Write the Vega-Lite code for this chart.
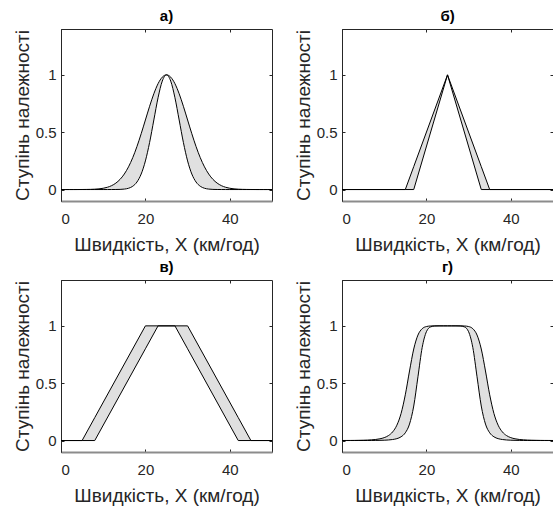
{
"$schema": "https://vega.github.io/schema/vega-lite/v6.json",
"padding": {"left": 12, "top": 8, "right": 0, "bottom": 0},
"columns": 2,
"spacing": {"row": 4, "column": 18},
"datasets": {
"pa": [{"x":0,"hi":0,"lo":0},{"x":1,"hi":0,"lo":0},{"x":2,"hi":0,"lo":0},{"x":3,"hi":0,"lo":0},{"x":4,"hi":0.0001,"lo":0},{"x":5,"hi":0.0003,"lo":0},{"x":6,"hi":0.0007,"lo":0},{"x":7,"hi":0.0015,"lo":0},{"x":8,"hi":0.0031,"lo":0},{"x":9,"hi":0.006,"lo":0},{"x":10,"hi":0.0111,"lo":0},{"x":11,"hi":0.0198,"lo":0},{"x":12,"hi":0.034,"lo":0.0001},{"x":13,"hi":0.0561,"lo":0.0003},{"x":14,"hi":0.0889,"lo":0.0012},{"x":15,"hi":0.1353,"lo":0.0039},{"x":16,"hi":0.1979,"lo":0.0111},{"x":17,"hi":0.278,"lo":0.0286},{"x":18,"hi":0.3753,"lo":0.0657},{"x":19,"hi":0.4868,"lo":0.1353},{"x":20,"hi":0.6065,"lo":0.2494},{"x":21,"hi":0.7261,"lo":0.4111},{"x":22,"hi":0.8353,"lo":0.6065},{"x":23,"hi":0.9231,"lo":0.8007},{"x":24,"hi":0.9802,"lo":0.9459},{"x":25,"hi":1,"lo":1},{"x":26,"hi":0.9802,"lo":0.9459},{"x":27,"hi":0.9231,"lo":0.8007},{"x":28,"hi":0.8353,"lo":0.6065},{"x":29,"hi":0.7261,"lo":0.4111},{"x":30,"hi":0.6065,"lo":0.2494},{"x":31,"hi":0.4868,"lo":0.1353},{"x":32,"hi":0.3753,"lo":0.0657},{"x":33,"hi":0.278,"lo":0.0286},{"x":34,"hi":0.1979,"lo":0.0111},{"x":35,"hi":0.1353,"lo":0.0039},{"x":36,"hi":0.0889,"lo":0.0012},{"x":37,"hi":0.0561,"lo":0.0003},{"x":38,"hi":0.034,"lo":0.0001},{"x":39,"hi":0.0198,"lo":0},{"x":40,"hi":0.0111,"lo":0},{"x":41,"hi":0.006,"lo":0},{"x":42,"hi":0.0031,"lo":0},{"x":43,"hi":0.0015,"lo":0},{"x":44,"hi":0.0007,"lo":0},{"x":45,"hi":0.0003,"lo":0},{"x":46,"hi":0.0001,"lo":0},{"x":47,"hi":0,"lo":0},{"x":48,"hi":0,"lo":0},{"x":49,"hi":0,"lo":0},{"x":50,"hi":0,"lo":0}],
"pb": [{"x":0,"hi":0,"lo":0},{"x":15,"hi":0,"lo":0},{"x":17,"hi":0.2,"lo":0},{"x":25,"hi":1,"lo":1},{"x":33,"hi":0.2,"lo":0},{"x":35,"hi":0,"lo":0},{"x":50,"hi":0,"lo":0}],
"pv": [{"x":0,"hi":0,"lo":0},{"x":5,"hi":0,"lo":0},{"x":8,"hi":0.2,"lo":0},{"x":20,"hi":1,"lo":0.8},{"x":23,"hi":1,"lo":1},{"x":27,"hi":1,"lo":1},{"x":30,"hi":1,"lo":0.8},{"x":42,"hi":0.2,"lo":0},{"x":45,"hi":0,"lo":0},{"x":50,"hi":0,"lo":0}],
"pg": [{"x":0,"hi":0.0004,"lo":0},{"x":1,"hi":0.0006,"lo":0.0001},{"x":2,"hi":0.0008,"lo":0.0001},{"x":3,"hi":0.0012,"lo":0.0001},{"x":4,"hi":0.0018,"lo":0.0002},{"x":5,"hi":0.0026,"lo":0.0003},{"x":6,"hi":0.0039,"lo":0.0004},{"x":7,"hi":0.006,"lo":0.0007},{"x":8,"hi":0.0094,"lo":0.001},{"x":9,"hi":0.0152,"lo":0.0017},{"x":10,"hi":0.0252,"lo":0.0028},{"x":11,"hi":0.043,"lo":0.0049},{"x":12,"hi":0.0752,"lo":0.0088},{"x":13,"hi":0.1337,"lo":0.0165},{"x":14,"hi":0.2363,"lo":0.0326},{"x":15,"hi":0.3988,"lo":0.0674},{"x":16,"hi":0.6065,"lo":0.1437},{"x":17,"hi":0.7982,"lo":0.3009},{"x":18,"hi":0.92,"lo":0.5561},{"x":19,"hi":0.9753,"lo":0.8113},{"x":20,"hi":0.9941,"lo":0.9487},{"x":21,"hi":0.999,"lo":0.991},{"x":22,"hi":0.9999,"lo":0.9991},{"x":23,"hi":1,"lo":1},{"x":24,"hi":1,"lo":1},{"x":25,"hi":1,"lo":1},{"x":26,"hi":1,"lo":1},{"x":27,"hi":1,"lo":1},{"x":28,"hi":0.9999,"lo":0.9991},{"x":29,"hi":0.999,"lo":0.991},{"x":30,"hi":0.9941,"lo":0.9487},{"x":31,"hi":0.9753,"lo":0.8113},{"x":32,"hi":0.92,"lo":0.5561},{"x":33,"hi":0.7982,"lo":0.3009},{"x":34,"hi":0.6065,"lo":0.1437},{"x":35,"hi":0.3988,"lo":0.0674},{"x":36,"hi":0.2363,"lo":0.0326},{"x":37,"hi":0.1337,"lo":0.0165},{"x":38,"hi":0.0752,"lo":0.0088},{"x":39,"hi":0.043,"lo":0.0049},{"x":40,"hi":0.0252,"lo":0.0028},{"x":41,"hi":0.0152,"lo":0.0017},{"x":42,"hi":0.0094,"lo":0.001},{"x":43,"hi":0.006,"lo":0.0007},{"x":44,"hi":0.0039,"lo":0.0004},{"x":45,"hi":0.0026,"lo":0.0003},{"x":46,"hi":0.0018,"lo":0.0002},{"x":47,"hi":0.0012,"lo":0.0001},{"x":48,"hi":0.0008,"lo":0.0001},{"x":49,"hi":0.0006,"lo":0.0001},{"x":50,"hi":0.0004,"lo":0}]
},
"concat": [
{"title": "а)", "data": {"name": "pa"}, "width": 211, "height": 172,
 "resolve": {"axis": {"x": "independent", "y": "independent"}},
 "layer": [
  {"mark": {"type": "area", "interpolate": "monotone", "color": "#e0e0e0"},
   "encoding": {
    "x": {"field": "x", "type": "quantitative", "scale": {"domain": [0, 50], "nice": false, "zero": false}, "axis": {"values": [0, 20, 40], "title": "Швидкість, X (км/год)"}},
    "y": {"field": "hi", "type": "quantitative", "scale": {"domain": [-0.1, 1.4], "nice": false, "zero": false}, "axis": {"values": [0, 0.5, 1], "format": "~g", "title": "Ступінь належності"}},
    "y2": {"field": "lo"}}},
  {"mark": {"type": "line", "interpolate": "monotone", "color": "#000000", "strokeWidth": 1},
   "encoding": {
    "x": {"field": "x", "type": "quantitative", "axis": {"orient": "top", "values": [0, 20, 40], "labels": false, "title": null, "domain": false}},
    "y": {"field": "hi", "type": "quantitative", "axis": {"orient": "right", "values": [0, 0.5, 1], "labels": false, "title": null, "domain": false}}}},
  {"mark": {"type": "line", "interpolate": "monotone", "color": "#000000", "strokeWidth": 1},
   "encoding": {
    "x": {"field": "x", "type": "quantitative", "axis": null},
    "y": {"field": "lo", "type": "quantitative", "axis": null}}}
 ]},
{"title": "б)", "data": {"name": "pb"}, "width": 211, "height": 172,
 "resolve": {"axis": {"x": "independent", "y": "independent"}},
 "layer": [
  {"mark": {"type": "area", "color": "#e0e0e0"},
   "encoding": {
    "x": {"field": "x", "type": "quantitative", "scale": {"domain": [0, 50], "nice": false, "zero": false}, "axis": {"values": [0, 20, 40], "title": "Швидкість, X (км/год)"}},
    "y": {"field": "hi", "type": "quantitative", "scale": {"domain": [-0.1, 1.4], "nice": false, "zero": false}, "axis": {"values": [0, 0.5, 1], "format": "~g", "title": "Ступінь належності"}},
    "y2": {"field": "lo"}}},
  {"mark": {"type": "line", "color": "#000000", "strokeWidth": 1},
   "encoding": {
    "x": {"field": "x", "type": "quantitative", "axis": {"orient": "top", "values": [0, 20, 40], "labels": false, "title": null, "domain": false}},
    "y": {"field": "hi", "type": "quantitative", "axis": {"orient": "right", "values": [0, 0.5, 1], "labels": false, "title": null, "domain": false}}}},
  {"mark": {"type": "line", "color": "#000000", "strokeWidth": 1},
   "encoding": {
    "x": {"field": "x", "type": "quantitative", "axis": null},
    "y": {"field": "lo", "type": "quantitative", "axis": null}}}
 ]},
{"title": "в)", "data": {"name": "pv"}, "width": 211, "height": 172,
 "resolve": {"axis": {"x": "independent", "y": "independent"}},
 "layer": [
  {"mark": {"type": "area", "color": "#e0e0e0"},
   "encoding": {
    "x": {"field": "x", "type": "quantitative", "scale": {"domain": [0, 50], "nice": false, "zero": false}, "axis": {"values": [0, 20, 40], "title": "Швидкість, X (км/год)"}},
    "y": {"field": "hi", "type": "quantitative", "scale": {"domain": [-0.1, 1.4], "nice": false, "zero": false}, "axis": {"values": [0, 0.5, 1], "format": "~g", "title": "Ступінь належності"}},
    "y2": {"field": "lo"}}},
  {"mark": {"type": "line", "color": "#000000", "strokeWidth": 1},
   "encoding": {
    "x": {"field": "x", "type": "quantitative", "axis": {"orient": "top", "values": [0, 20, 40], "labels": false, "title": null, "domain": false}},
    "y": {"field": "hi", "type": "quantitative", "axis": {"orient": "right", "values": [0, 0.5, 1], "labels": false, "title": null, "domain": false}}}},
  {"mark": {"type": "line", "color": "#000000", "strokeWidth": 1},
   "encoding": {
    "x": {"field": "x", "type": "quantitative", "axis": null},
    "y": {"field": "lo", "type": "quantitative", "axis": null}}}
 ]},
{"title": "г)", "data": {"name": "pg"}, "width": 211, "height": 172,
 "resolve": {"axis": {"x": "independent", "y": "independent"}},
 "layer": [
  {"mark": {"type": "area", "interpolate": "monotone", "color": "#e0e0e0"},
   "encoding": {
    "x": {"field": "x", "type": "quantitative", "scale": {"domain": [0, 50], "nice": false, "zero": false}, "axis": {"values": [0, 20, 40], "title": "Швидкість, X (км/год)"}},
    "y": {"field": "hi", "type": "quantitative", "scale": {"domain": [-0.1, 1.4], "nice": false, "zero": false}, "axis": {"values": [0, 0.5, 1], "format": "~g", "title": "Ступінь належності"}},
    "y2": {"field": "lo"}}},
  {"mark": {"type": "line", "interpolate": "monotone", "color": "#000000", "strokeWidth": 1},
   "encoding": {
    "x": {"field": "x", "type": "quantitative", "axis": {"orient": "top", "values": [0, 20, 40], "labels": false, "title": null, "domain": false}},
    "y": {"field": "hi", "type": "quantitative", "axis": {"orient": "right", "values": [0, 0.5, 1], "labels": false, "title": null, "domain": false}}}},
  {"mark": {"type": "line", "interpolate": "monotone", "color": "#000000", "strokeWidth": 1},
   "encoding": {
    "x": {"field": "x", "type": "quantitative", "axis": null},
    "y": {"field": "lo", "type": "quantitative", "axis": null}}}
 ]}
],
"config": {
 "font": "Liberation Sans",
 "view": {"stroke": "#262626", "strokeWidth": 1},
 "axis": {"grid": false, "tickSize": -3, "tickColor": "#262626", "labelFontSize": 15, "labelColor": "#262626", "titleFontSize": 19, "titleFontWeight": "normal", "titleColor": "#262626", "domainColor": "#262626"},
 "axisBottom": {"labelPadding": 13, "titlePadding": 9, "domainColor": "#8c8c8c", "domainWidth": 2},
 "axisLeft": {"labelPadding": 8, "titlePadding": 3},
 "title": {"fontSize": 15, "fontWeight": "bold", "color": "#000000", "offset": 5}
}
}
